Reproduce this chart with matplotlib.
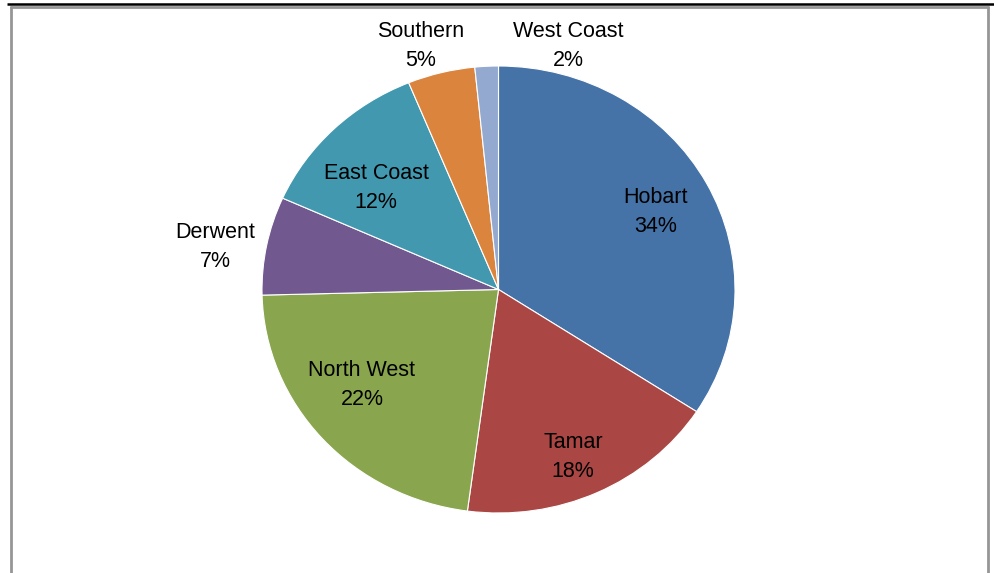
import matplotlib
matplotlib.use("Agg")
import matplotlib.pyplot as plt
from matplotlib.lines import Line2D

regions = ["Hobart", "Tamar", "North West", "Derwent", "East Coast", "Southern", "West Coast"]
shares = [34.2, 17.9, 22.5, 7.1, 12.1, 4.6, 1.6]
colors = ["#4572A7", "#AA4643", "#89A54E", "#71588F", "#4198AF", "#DB843D", "#93A9CF"]

W, H = 995, 573
fig = plt.figure(figsize=(W / 100, H / 100), dpi=100)
fig.patch.set_facecolor("white")

cx, cy, rx, ry = 498.5, 289.5, 236.5, 223.5
ax = fig.add_axes([(cx - rx) / W, (H - cy - ry) / H, 2 * rx / W, 2 * ry / H])
wedges, _ = ax.pie(shares, colors=colors, startangle=90, counterclock=False,
                   radius=1.0, wedgeprops=dict(edgecolor="white", linewidth=0.8))
ax.set_xlim(-1, 1)
ax.set_ylim(-1, 1)
ax.set_aspect("auto")
ax.axis("off")

# label positions in pixel coordinates (layout)
label_px = [(656, 212), (573, 457), (362, 385), (215, 247), (376, 188), (421, 46), (568, 46)]
for name, val, (px, py) in zip(regions, shares, label_px):
    ax.text((px - cx) / rx, (cy - py) / ry, f"{name}\n{round(val):.0f}%",
            ha="center", va="center", fontsize=15.5, family="Liberation Sans",
            color="black", linespacing=1.45)

# frame
def hline(y, x0, x1, c, lw):
    fig.add_artist(Line2D([x0 / W, x1 / W], [1 - y / H, 1 - y / H], color=c, lw=lw,
                          transform=fig.transFigure, solid_capstyle="butt"))

def vline(x, y0, y1, c, lw):
    fig.add_artist(Line2D([x / W, x / W], [1 - y0 / H, 1 - y1 / H], color=c, lw=lw,
                          transform=fig.transFigure, solid_capstyle="butt"))

hline(6.5, 10, 989, "#969696", 2)
vline(11, 6, 573, "#969696", 2)
vline(988, 6, 573, "#969696", 2)
hline(4, 7, 995, "black", 1.8)

fig.savefig("out.png", dpi=100, facecolor="white")
